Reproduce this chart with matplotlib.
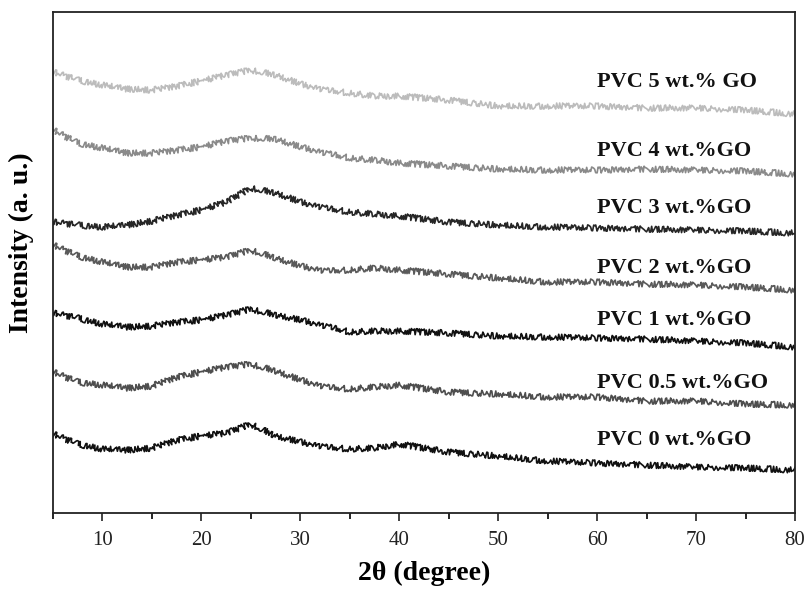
import matplotlib
matplotlib.use("Agg")
import matplotlib.pyplot as plt
from matplotlib.ticker import MultipleLocator

# 2theta sample positions (degree)
two_theta = [5, 7.5, 10, 12.5, 15, 17.5, 20, 22.5, 25, 27.5, 30, 32.5, 35,
             37.5, 40, 45, 50, 55, 60, 65, 70, 75, 80]

# Intensities (a.u., stacked with offsets)
pvc_5 = [441, 433, 428, 424, 423, 427, 432, 438, 443, 438, 429, 423, 420,
         417, 417, 413, 407, 407, 407, 405, 405, 403, 399]
pvc_4 = [383, 370, 365, 360, 360, 363, 366, 372, 375, 374, 366, 360, 355,
         353, 350, 347, 344, 343, 343, 344, 343, 342, 339]
pvc_3 = [291, 288, 286, 288, 292, 298, 303, 311, 325, 320, 311, 305, 301,
         299, 297, 291, 288, 286, 285, 284, 283, 282, 280]
pvc_2 = [268, 257, 251, 246, 246, 251, 253, 256, 263, 255, 247, 242, 243,
         245, 243, 239, 235, 231, 231, 229, 228, 226, 223]
pvc_1 = [200, 195, 189, 186, 187, 191, 193, 198, 204, 198, 193, 187, 181,
         182, 182, 180, 177, 176, 175, 174, 172, 170, 166]
pvc_05 = [141, 131, 128, 125, 127, 136, 141, 146, 149, 142, 133, 126, 124,
          126, 128, 121, 119, 116, 116, 112, 112, 109, 108]
pvc_0 = [79, 69, 64, 63, 65, 73, 77, 80, 89, 77, 71, 66, 64,
         65, 69, 61, 57, 52, 50, 48, 46, 45, 43]

series = [pvc_5, pvc_4, pvc_3, pvc_2, pvc_1, pvc_05, pvc_0]
labels = ["PVC 5 wt.% GO", "PVC 4 wt.%GO", "PVC 3 wt.%GO", "PVC 2 wt.%GO",
          "PVC 1 wt.%GO", "PVC 0.5 wt.%GO", "PVC 0 wt.%GO"]
colors = ["#bcbcbc", "#8a8a8a", "#262626", "#5a5a5a", "#111111", "#4e4e4e", "#111111"]
label_y = [431, 362, 305, 245, 193, 130, 73]

plt.rcParams['font.family'] = ['Liberation Serif', 'DejaVu Serif']

fig = plt.figure(figsize=(8.09, 5.92), dpi=100)
ax = fig.add_axes([0.0655, 0.1334, 0.9172, 0.8463])

for ys, c in zip(series, colors):
    ln, = ax.plot(two_theta, ys, color=c, lw=1.2)
    ln.set_sketch_params(scale=3.0, length=1.0, randomness=3)

for lab, ly in zip(labels, label_y):
    ax.text(60, ly, lab, ha='left', va='center', fontsize=16,
            fontweight='bold', color='#111111')

ax.set_xlim(5, 80)
ax.set_ylim(0, 501)
ax.xaxis.set_major_locator(MultipleLocator(10))
ax.xaxis.set_minor_locator(MultipleLocator(5))
ax.set_yticks([])
ax.tick_params(axis='x', which='major', direction='out', length=6, width=1.2,
               labelsize=15, colors='#222222', pad=7)
ax.tick_params(axis='x', which='minor', direction='out', length=4, width=1.2)
for s in ax.spines.values():
    s.set_linewidth(1.3)
    s.set_color('#222222')

ax.set_xlabel("2θ (degree)", fontsize=20, fontweight='bold', labelpad=8)
ax.set_ylabel("Intensity (a. u.)", fontsize=20, fontweight='bold')
ax.yaxis.set_label_coords(-0.026, 0.54)

fig.savefig("out.png", dpi=100)
